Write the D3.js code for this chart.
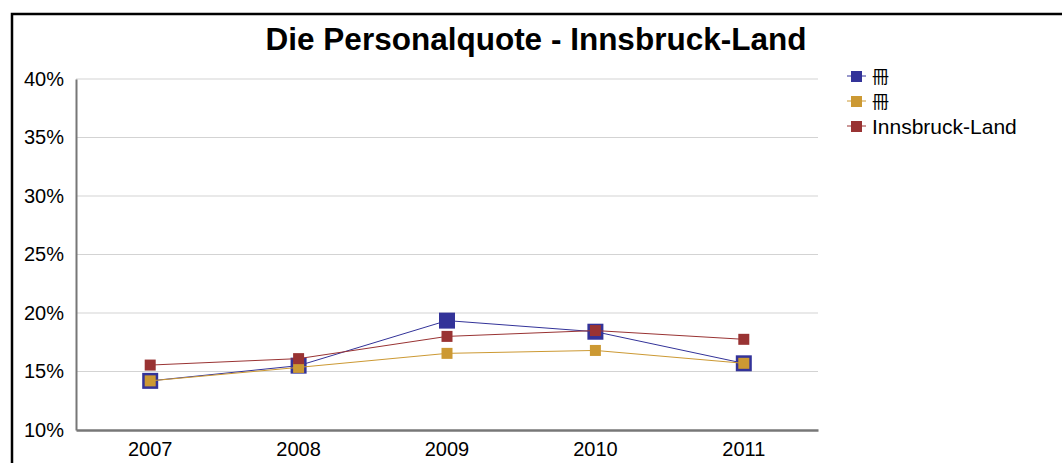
<!DOCTYPE html>
<html>
<head>
<meta charset="utf-8">
<script src="https://cdn.jsdelivr.net/npm/d3@7"></script>
<style>
  body { margin: 0; background: #fff; }
  text { font-family: "Liberation Sans", Arial, sans-serif; fill: #000; }
</style>
</head>
<body>
<svg id="chart" width="1062" height="463"></svg>
<script>
"use strict";

// chart data
const years = ["2007", "2008", "2009", "2010", "2011"];
const seriesNames = ["冊", "冊", "Innsbruck-Land"];
const bundValues = [14.2, 15.5, 19.35, 18.4, 15.7];
const tirolValues = [14.2, 15.35, 16.55, 16.8, 15.7];
const ibkLandValues = [15.55, 16.1, 18.0, 18.5, 17.75];
const yTicks = [10, 15, 20, 25, 30, 35, 40];

const colors = ["#333399", "#cc9933", "#993333"];
const markerSizes = [16, 11, 11];
const series = [bundValues, tirolValues, ibkLandValues];

const svg = d3.select("#chart");
const margin = { left: 76, top: 79, right: 818, bottom: 430 };

// frame
svg.append("rect")
    .attr("x", 12).attr("y", 14)
    .attr("width", 1100).attr("height", 500)
    .style("fill", "none")
    .style("stroke", "#000")
    .style("stroke-width", 2.5);

svg.append("text")
    .attr("x", 536).attr("y", 50)
    .attr("text-anchor", "middle")
    .style("font-size", "31.5px")
    .style("font-weight", "bold")
    .text("Die Personalquote - Innsbruck-Land");

const x = d3.scaleBand().domain(years).range([margin.left, margin.right]);
const y = d3.scaleLinear().domain([10, 40]).range([margin.bottom, margin.top]);

// gridlines
svg.append("g")
    .selectAll("line")
    .data(yTicks.slice(1))
    .enter().append("line")
        .attr("x1", margin.left).attr("x2", margin.right)
        .attr("y1", d => y(d)).attr("y2", d => y(d))
        .style("stroke", "#d3d3d3")
        .style("stroke-width", 1);

// y axis
const yAxis = svg.append("g")
    .attr("transform", "translate(" + margin.left + ",0)")
    .call(d3.axisLeft(y).tickValues(yTicks).tickSize(0).tickPadding(12).tickFormat(d => d + "%"));
yAxis.select(".domain").style("stroke", "#777").style("stroke-width", 2);
yAxis.selectAll("text").style("font-size", "20px").style("font-family", "Liberation Sans, Arial, sans-serif");

// x axis
const xAxis = svg.append("g")
    .attr("transform", "translate(0," + margin.bottom + ")")
    .call(d3.axisBottom(x).tickSize(0).tickPadding(12));
xAxis.select(".domain").style("stroke", "#777").style("stroke-width", 2.5);
xAxis.selectAll("text").style("font-size", "20px").style("font-family", "Liberation Sans, Arial, sans-serif");

const cx = d => x(d) + x.bandwidth() / 2;
const line = d3.line()
    .x((d, i) => cx(years[i]))
    .y(d => y(d));

series.forEach(function(vals, s) {
    const g = svg.append("g");
    g.append("path")
        .attr("d", line(vals))
        .style("fill", "none")
        .style("stroke", colors[s])
        .style("stroke-width", 1);
    g.selectAll("rect")
        .data(vals)
        .enter().append("rect")
            .attr("x", (d, i) => cx(years[i]) - markerSizes[s] / 2)
            .attr("y", d => y(d) - markerSizes[s] / 2)
            .attr("width", markerSizes[s])
            .attr("height", markerSizes[s])
            .style("fill", colors[s]);
});

// legend
const legend = svg.append("g")
    .selectAll("g")
    .data(seriesNames)
    .enter().append("g")
        .attr("transform", (d, i) => "translate(856," + (76 + i * 25) + ")");
legend.append("line")
    .attr("x1", -9).attr("x2", 10)
    .style("stroke", (d, i) => colors[i])
    .style("stroke-width", 1);
legend.append("rect")
    .attr("x", -5).attr("y", -5)
    .attr("width", 11).attr("height", 11)
    .style("fill", (d, i) => colors[i]);
legend.append("text")
    .attr("x", 16).attr("y", (d, i) => i < 2 ? 7 : 8)
    .style("font-size", (d, i) => i < 2 ? "17px" : "21px")
    .style("font-family", (d, i) => i < 2 ? "Noto Sans CJK SC" : "Liberation Sans, Arial, sans-serif")
    .text(d => d);
</script>
</body>
</html>
